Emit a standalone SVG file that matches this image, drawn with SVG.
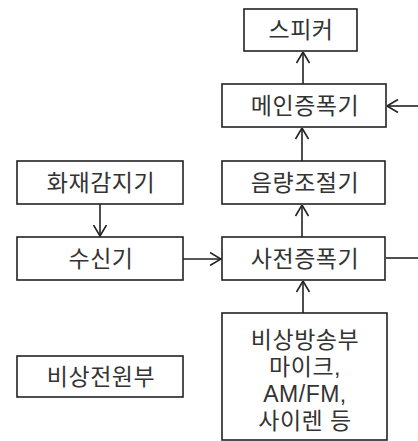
<svg xmlns="http://www.w3.org/2000/svg" width="418" height="441" viewBox="0 0 418 441">
<defs>
<style>
.box{fill:#fff;stroke:#222;stroke-width:1.6}
.t{font-family:"Liberation Sans","Noto Sans CJK KR",sans-serif;font-size:23px;fill:#333;text-anchor:middle;letter-spacing:0.5px}
.c{stroke:#222;stroke-width:1.6;fill:none}
</style>
<marker id="ah" markerUnits="userSpaceOnUse" viewBox="0 0 12 14" refX="11.5" refY="7" markerWidth="12" markerHeight="14" orient="auto">
<path d="M0.5,0.5 L11.5,7 L0.5,13.5" fill="none" stroke="#222" stroke-width="1.6"/>
</marker>
</defs>
<rect width="418" height="441" fill="#fff"/>
<g id="connectors">
<line class="c" x1="303" y1="84" x2="303" y2="52" marker-end="url(#ah)"/>
<line class="c" x1="418" y1="106" x2="387" y2="106" marker-end="url(#ah)"/>
<line class="c" x1="302" y1="161" x2="302" y2="128" marker-end="url(#ah)"/>
<line class="c" x1="302" y1="237" x2="302" y2="205" marker-end="url(#ah)"/>
<line class="c" x1="100" y1="204" x2="100" y2="236" marker-end="url(#ah)"/>
<line class="c" x1="183" y1="259" x2="221" y2="259" marker-end="url(#ah)"/>
<line class="c" x1="386" y1="258" x2="418" y2="258"/>
<line class="c" x1="303" y1="313" x2="303" y2="281" marker-end="url(#ah)"/>
</g>
<g id="speaker"><rect class="box" x="244" y="9" width="113" height="42"/><text class="t" x="301" y="38">스피커</text></g>
<g id="main-amp"><rect class="box" x="222" y="84" width="164" height="43"/><text class="t" x="305" y="114">메인증폭기</text></g>
<g id="volume"><rect class="box" x="222" y="161" width="163" height="43"/><text class="t" x="305" y="191">음량조절기</text></g>
<g id="pre-amp"><rect class="box" x="222" y="237" width="163" height="43"/><text class="t" x="305" y="267">사전증폭기</text></g>
<g id="fire-detector"><rect class="box" x="17" y="161" width="166" height="43"/><text class="t" x="101" y="191">화재감지기</text></g>
<g id="receiver"><rect class="box" x="17" y="237" width="166" height="43"/><text class="t" x="101" y="267">수신기</text></g>
<g id="emergency-power"><rect class="box" x="17" y="356" width="166" height="41"/><text class="t" x="101" y="385">비상전원부</text></g>
<g id="emergency-broadcast"><rect class="box" x="222" y="313" width="165" height="127"/>
<text class="t" x="305" y="348">비상방송부</text>
<text class="t" x="305" y="375">마이크,</text>
<text class="t" x="305" y="402">AM/FM,</text>
<text class="t" x="305" y="429">사이렌 등</text>
</g>
</svg>
